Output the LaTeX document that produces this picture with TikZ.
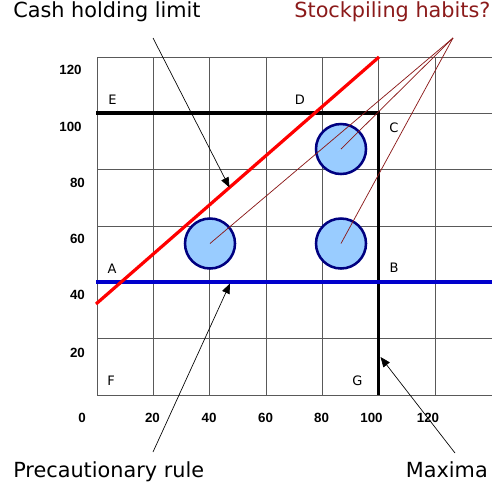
\documentclass[tikz,border=0pt]{standalone}
\usepackage{fontspec}
\setmainfont{DejaVu Sans}
\newfontfamily\tickfont{Liberation Sans}
\usetikzlibrary{arrows.meta}
\definecolor{stockred}{HTML}{8B1A1A}
\definecolor{ballfill}{HTML}{99CCFF}
\definecolor{balledge}{HTML}{000080}
\definecolor{ruleblue}{HTML}{0000CC}
\begin{document}
\begin{tikzpicture}[x=0.75pt,y=-0.75pt,
  gridline/.style={draw=black!65,line width=0.75pt},
  ticklbl/.style={font=\tickfont\bfseries\fontsize{10}{12}\selectfont,inner sep=0pt,anchor=center},
  ptlbl/.style={font=\fontsize{9.75}{11}\selectfont,inner sep=0pt,anchor=center},
  biglbl/.style={font=\fontsize{15.6}{18}\selectfont,inner sep=0pt},
  thickblack/.style={draw=black,line width=2.4pt},
  ball/.style={circle,draw=balledge,fill=ballfill,line width=1.9pt,minimum size=37.5pt,inner sep=0pt},
  pointer/.style={draw=black,line width=0.5pt,-{Triangle[length=7.5pt,width=6pt]}},
  stockline/.style={draw=stockred,line width=0.55pt}]
\useasboundingbox (0,0) rectangle (492,490);
% grid
\foreach \y in {57,113,169,226,282,338,395}
  \draw[gridline] (97.3,\y) -- (492,\y);
\foreach \x in {97.3,153.6,209.9,266.2,322.5,378.8,435.1}
  \draw[gridline] (\x,57) -- (\x,395);
% tick labels
\node[ticklbl] (y120) at (70.5,70) {120};
\node[ticklbl] (y100) at (70.5,127) {100};
\node[ticklbl] (y80) at (77.5,183) {80};
\node[ticklbl] (y60) at (77.5,239) {60};
\node[ticklbl] (y40) at (77.5,295) {40};
\node[ticklbl] (y20) at (77.5,353) {20};
\node[ticklbl] (x0) at (82,418) {0};
\node[ticklbl] (x20) at (152.5,418) {20};
\node[ticklbl] (x40) at (209,418) {40};
\node[ticklbl] (x60) at (265.5,418) {60};
\node[ticklbl] (x80) at (321.5,418) {80};
\node[ticklbl] (x100) at (371.5,418) {100};
\node[ticklbl] (x120) at (428,418) {120};
% point letters
\node[ptlbl] (E) at (112.5,99.5) {E};
\node[ptlbl] (D) at (300,100) {D};
\node[ptlbl] (C) at (394,128) {C};
\node[ptlbl] (A) at (112,268.5) {A};
\node[ptlbl] (B) at (394,268) {B};
\node[ptlbl] (F) at (111,381) {F};
\node[ptlbl] (G) at (357.5,380.5) {G};
% maxima lines
\draw[thickblack] (96,113) -- (378.8,113) -- (378.8,395);
% precautionary rule
\draw[draw=ruleblue,line width=2.4pt] (96,282) -- (492,282);
% cash holding limit
\draw[draw=red,line width=2.4pt] (96,304) -- (379,57);
% balls
\node[ball] (b1) at (210,243.5) {};
\node[ball] (b2) at (341,149) {};
\node[ball] (b3) at (341,243.5) {};
% stockpiling lines
\coordinate (apex) at (453,38);
\draw[stockline] (apex) -- (b1.center);
\draw[stockline] (apex) -- (b2.center);
\draw[stockline] (apex) -- (b3.center);
% text labels
\node[biglbl,anchor=base west] (cash) at (13,17.3) {Cash holding limit};
\node[biglbl,anchor=base east,text=stockred] (stock) at (490.7,17.3) {Stockpiling habits?};
\node[biglbl,anchor=base west] (prec) at (13,477) {Precautionary rule};
\node[biglbl,anchor=base east] (max) at (488,477) {Maxima};
% pointers
\coordinate (cashtail) at (153,38);
\coordinate (cashtip) at (229.5,187.5);
\coordinate (prectail) at (153,452);
\coordinate (prectip) at (230,283.5);
\coordinate (maxtail) at (455,453);
\coordinate (maxtip) at (380.5,357);
\draw[pointer] (cashtail) -- (cashtip);
\draw[pointer] (prectail) -- (prectip);
\draw[pointer] (maxtail) -- (maxtip);
\end{tikzpicture}
\end{document}
